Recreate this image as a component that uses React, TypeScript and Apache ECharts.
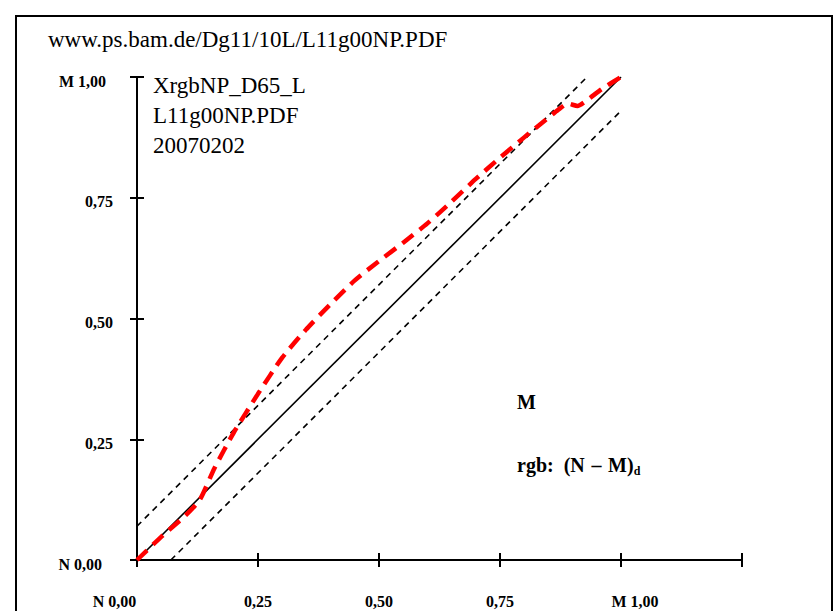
import React, { useEffect, useRef } from "react";
import * as echarts from "echarts";

const xTickValues = [0, 0.25, 0.5, 0.75, 1.0, 1.25];
const xTickLabels = ["N 0,00", "0,25", "0,50", "0,75", "M 1,00", ""];
const yTickValues = [0, 0.25, 0.5, 0.75, 1.0];
const yTickLabels = ["N 0,00", "0,25", "0,50", "0,75", "M 1,00"];

const diagX = [0, 1];
const diagY = [0, 1];
const upperX = [0, 0.93];
const upperY = [0.07, 1.0];
const lowerX = [0.07, 1.0];
const lowerY = [0, 0.93];

const measX = [0, 0.05, 0.1, 0.13, 0.16, 0.2, 0.25, 0.3, 0.35, 0.4, 0.45, 0.5, 0.55, 0.6, 0.65, 0.7, 0.75, 0.8, 0.85, 0.87, 0.89, 0.91, 0.93, 0.96, 1.0];
const measY = [0, 0.048, 0.092, 0.125, 0.19, 0.264, 0.344, 0.419, 0.478, 0.53, 0.579, 0.619, 0.657, 0.697, 0.742, 0.789, 0.833, 0.875, 0.916, 0.932, 0.945, 0.94, 0.952, 0.975, 1.0];

const titleText = "www.ps.bam.de/Dg11/10L/L11g00NP.PDF";
const infoLines = ["XrgbNP_D65_L", "L11g00NP.PDF", "20070202"];
const colorLabel = "M";
const formulaMain = "rgb:\u2002(N\u2004\u2013\u2004M)";
const formulaSub = "d";

const FONT = "'Times New Roman', 'Liberation Serif', serif";

const zip = (xs: number[], ys: number[]) => xs.map((x, i) => [x, ys[i]]);

const labelIndex = (vals: number[], v: number) => {
  let best = 0;
  vals.forEach((t, i) => {
    if (Math.abs(t - v) < Math.abs(vals[best] - v)) best = i;
  });
  return best;
};

export default function App() {
  const ref = useRef<HTMLDivElement>(null);
  useEffect(() => {
    if (!ref.current) return;
    const chart = echarts.init(ref.current, undefined, { renderer: "svg" });
    const tickFont = { fontFamily: FONT, fontWeight: "bold" as const, fontSize: 16, color: "#000" };
    const axisCommon = {
      type: "value" as const,
      splitLine: { show: false },
      axisLine: { show: true, lineStyle: { color: "#000", width: 2 } },
      axisTick: { show: true, length: 7, lineStyle: { color: "#000", width: 2 } },
    };
    chart.setOption({
      animation: false,
      backgroundColor: "#fff",
      grid: { left: 137, top: 77, right: 93, bottom: 51, containLabel: false },
      xAxis: [
        {
          ...axisCommon,
          position: "bottom",
          min: 0,
          max: 1.25,
          interval: 0.25,
          axisLabel: {
            ...tickFont,
            margin: 33,
            formatter: (v: number) => {
              const i = labelIndex(xTickValues, v);
              const t = xTickLabels[i];
              if (!t) return "";
              if (i === 0) return `{n|${t}}`;
              if (i === 4) return `{m|${t}}`;
              return `{a|${t}}`;
            },
            rich: {
              a: { ...tickFont },
              n: { ...tickFont, padding: [0, 45, 0, 0] },
              m: { ...tickFont, padding: [0, 0, 0, 28] },
            },
          },
        },
        {
          ...axisCommon,
          position: "bottom",
          min: 0,
          max: 1.25,
          interval: 0.25,
          axisLine: { show: false },
          axisTick: { show: true, inside: true, length: 7, lineStyle: { color: "#000", width: 2 } },
          axisLabel: { show: false },
        },
      ],
      yAxis: [
        {
          ...axisCommon,
          position: "left",
          min: 0,
          max: 1,
          interval: 0.25,
          axisLabel: {
            ...tickFont,
            margin: 24,
            align: "right",
            formatter: (v: number) => {
              const i = labelIndex(yTickValues, v);
              const t = yTickLabels[i];
              if (i === 0) return `{n|${t}}`;
              if (i === 4) return `{m|${t}}`;
              return `{a|${t}}`;
            },
            rich: {
              a: { ...tickFont, padding: [8, 0, 0, 0] },
              n: { ...tickFont, padding: [8, 11, 0, 0] },
              m: { ...tickFont, padding: [8, 7, 0, 0] },
            },
          },
        },
        {
          ...axisCommon,
          position: "left",
          min: 0,
          max: 1,
          interval: 0.25,
          axisLine: { show: false },
          axisTick: { show: true, inside: true, length: 7, lineStyle: { color: "#000", width: 2 } },
          axisLabel: { show: false },
        },
      ],
      series: [
        {
          type: "line",
          xAxisIndex: 0,
          yAxisIndex: 0,
          data: zip(diagX, diagY),
          showSymbol: false,
          symbol: "none",
          lineStyle: { color: "#000", width: 1.6, type: "solid" },
          silent: true,
        },
        {
          type: "line",
          data: zip(upperX, upperY),
          symbol: "none",
          lineStyle: { color: "#000", width: 1.6, type: [6, 5] },
          silent: true,
        },
        {
          type: "line",
          data: zip(lowerX, lowerY),
          symbol: "none",
          lineStyle: { color: "#000", width: 1.6, type: [6, 5] },
          silent: true,
        },
        {
          type: "line",
          data: zip(measX, measY),
          symbol: "none",
          smooth: 0.2,
          lineStyle: { color: "#ff0000", width: 4.5, type: [14, 8] },
          silent: true,
          z: 5,
        },
      ],
      graphic: [
        {
          type: "rect",
          shape: { x: 16, y: 16, width: 816, height: 640 },
          style: { fill: "none", stroke: "#000", lineWidth: 2 },
          silent: true,
        },
        {
          type: "text",
          x: 48,
          y: 39,
          style: { text: titleText, font: `23px ${FONT}`, fill: "#000", verticalAlign: "middle", align: "left" },
        },
        {
          type: "text",
          x: 153,
          y: 70.5,
          style: {
            text: infoLines.join("\n"),
            font: `23px ${FONT}`,
            lineHeight: 30,
            fill: "#000",
            verticalAlign: "top",
            align: "left",
          },
        },
        {
          type: "text",
          x: 517,
          y: 401.5,
          style: { text: colorLabel, font: `bold 20px ${FONT}`, fill: "#000", verticalAlign: "middle", align: "left" },
        },
        {
          type: "text",
          x: 517,
          y: 465,
          style: {
            text: `{a|${formulaMain}}{s|${formulaSub}}`,
            verticalAlign: "middle",
            align: "left",
            rich: {
              a: { fontFamily: FONT, fontWeight: "bold", fontSize: 20, fill: "#000", color: "#000", verticalAlign: "middle" },
              s: { fontFamily: FONT, fontWeight: "bold", fontSize: 12, fill: "#000", color: "#000", padding: [12, 0, 0, 0], verticalAlign: "middle" },
            },
          },
        },
      ],
    });
    return () => chart.dispose();
  }, []);
  return (
    <div
      ref={ref}
      style={{ position: "fixed", left: 0, top: 0, width: 835, height: 611, background: "#fff" }}
    />
  );
}
